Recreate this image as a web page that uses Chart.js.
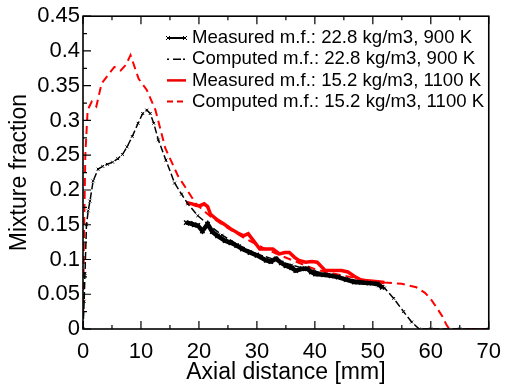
<!DOCTYPE html>
<html>
<head>
<meta charset="utf-8">
<script src="https://cdn.jsdelivr.net/npm/chart.js@4.4.1/dist/chart.umd.min.js"></script>
<style>
  html, body { margin: 0; padding: 0; background: #fff; }
  #wrap { width: 511px; height: 392px; }
</style>
</head>
<body>
<div id="wrap"><canvas id="chart" width="511" height="392"></canvas></div>
<script>
// Measured m.f., 22.8 kg/m3, 900 K
const measBlackX = [17.8, 18.5, 19.2, 19.8, 20.6, 21.5, 22.3, 23.2, 24.5, 25.5, 26.5, 27.5, 28.8, 30, 31.6, 32.4, 33.3, 34.2, 35, 36, 36.7, 37.8, 38.7, 39.4, 40.1, 41.5, 42.8, 44, 45.4, 46.8, 48, 49.3, 50.8, 51.6];
const measBlackY = [0.153, 0.152, 0.15, 0.149, 0.141, 0.151, 0.14, 0.134, 0.127, 0.124, 0.12, 0.115, 0.11, 0.106, 0.0986, 0.097, 0.101, 0.095, 0.091, 0.088, 0.084, 0.0867, 0.0867, 0.082, 0.079, 0.078, 0.0765, 0.0747, 0.071, 0.0676, 0.067, 0.066, 0.065, 0.06];

// Computed m.f., 22.8 kg/m3, 900 K
const compBlackX = [0, 0.2, 0.34, 0.6, 0.9, 1.2, 1.75, 2.6, 3.4, 4.2, 5.1, 6, 6.8, 7.6, 8.5, 9.5, 10.3, 11.0, 11.6, 12.2, 13.0, 14.3, 15.8, 17, 18.1, 19.8, 21.5, 24, 27, 30, 33, 36, 40, 44, 48, 51, 52, 53.6, 55.3, 56.7, 58, 60, 65, 70];
const compBlackY = [0, 0.04, 0.08, 0.15, 0.17, 0.184, 0.213, 0.23, 0.234, 0.237, 0.24, 0.245, 0.251, 0.262, 0.277, 0.296, 0.31, 0.315, 0.31, 0.296, 0.272, 0.243, 0.21, 0.194, 0.18, 0.163, 0.151, 0.135, 0.12, 0.108, 0.1, 0.092, 0.083, 0.076, 0.068, 0.062, 0.059, 0.044, 0.025, 0.01, 0, 0, 0, 0];

// Measured m.f., 15.2 kg/m3, 1100 K
const measRedX = [17.8, 18.8, 19.5, 20.1, 20.9, 21.5, 22.0, 23.0, 24.3, 25.5, 26.7, 27.7, 28.5, 29.5, 30.5, 31.6, 32.75, 33.9, 34.8, 35.6, 36.5, 37.25, 38.4, 39.5, 40.4, 41.8, 43.0, 44.6, 45.7, 46.8, 48, 49.5, 51.3, 52];
const measRedY = [0.182, 0.18, 0.178, 0.177, 0.18, 0.176, 0.165, 0.158, 0.151, 0.144, 0.138, 0.134, 0.137, 0.126, 0.115, 0.115, 0.115, 0.108, 0.11, 0.11, 0.103, 0.0986, 0.096, 0.097, 0.096, 0.084, 0.084, 0.084, 0.082, 0.076, 0.07, 0.069, 0.0676, 0.067];

// Computed m.f., 15.2 kg/m3, 1100 K
const compRedX = [0, 0.15, 0.4, 0.8, 1.5, 2.3, 3.2, 4.3, 5.4, 6.5, 7.4, 8.2, 9.6, 11.0, 12.5, 14.2, 16.4, 19.5, 22, 25, 28, 31, 34, 37, 40, 43, 46, 49, 52, 55, 57.5, 59, 60, 61, 62, 62.7, 63.2, 66, 70];
const compRedY = [0, 0.12, 0.25, 0.315, 0.327, 0.32, 0.353, 0.365, 0.377, 0.372, 0.38, 0.394, 0.36, 0.344, 0.315, 0.26, 0.22, 0.18, 0.162, 0.145, 0.13, 0.117, 0.106, 0.096, 0.086, 0.08, 0.075, 0.07, 0.067, 0.065, 0.06, 0.052, 0.043, 0.031, 0.018, 0.006, 0, 0, 0];

const legendLabels = [
  'Measured m.f.: 22.8 kg/m3, 900 K',
  'Computed m.f.: 22.8 kg/m3, 900 K',
  'Measured m.f.: 15.2 kg/m3, 1100 K',
  'Computed m.f.: 15.2 kg/m3, 1100 K',
];

const toPoints = (xs, ys) => xs.map((x, i) => ({ x, y: ys[i] }));

const FONT = "'Liberation Sans', Arial, sans-serif";

// inward tick marks on bottom, top and left + legend inside the plot
const tickMarks = {
  id: 'tickMarks',
  afterDatasetsDraw(chart) {
    const { ctx, chartArea: a, scales: { x, y } } = chart;
    ctx.save();
    ctx.strokeStyle = '#000';
    ctx.lineWidth = 1.2;
    ctx.beginPath();
    for (let v = 0; v <= 70; v += 5) {
      const px = x.getPixelForValue(v);
      const len = v % 10 === 0 ? 8 : 4;
      ctx.moveTo(px, a.bottom); ctx.lineTo(px, a.bottom - len);
      ctx.moveTo(px, a.top); ctx.lineTo(px, a.top + len);
    }
    for (let k = 0; k <= 18; k++) {
      const py = y.getPixelForValue(k * 0.025);
      const len = k % 2 === 0 ? 8 : 4;
      ctx.moveTo(a.left, py); ctx.lineTo(a.left + len, py);
    }
    ctx.stroke();
    ctx.lineWidth = 1.6;
    ctx.strokeRect(a.left, a.top, a.right - a.left, a.bottom - a.top);
    ctx.restore();
  },
  afterDraw(chart) {
    const { ctx } = chart;
    const styles = [
      { color: '#000', dash: [], width: 2, mark: true },
      { color: '#000', dash: [2, 4, 8, 2], width: 1.5, mark: false },
      { color: '#e00', dash: [], width: 2.5, mark: false },
      { color: '#e00', dash: [6, 4], width: 2, mark: false },
    ];
    ctx.save();
    ctx.font = '18.6px ' + FONT;
    ctx.textBaseline = 'middle';
    legendLabels.forEach((label, i) => {
      const yy = 38 + i * 21.2;
      const s = styles[i];
      ctx.strokeStyle = s.color;
      ctx.lineWidth = s.width;
      ctx.setLineDash(s.dash);
      ctx.beginPath();
      ctx.moveTo(167, yy); ctx.lineTo(186, yy);
      ctx.stroke();
      ctx.setLineDash([]);
      if (s.mark) {
        ctx.lineWidth = 1;
        ctx.beginPath();
        [168, 185].forEach((mx) => {
          ctx.moveTo(mx - 2, yy - 2); ctx.lineTo(mx + 2, yy + 2);
          ctx.moveTo(mx - 2, yy + 2); ctx.lineTo(mx + 2, yy - 2);
        });
        ctx.stroke();
      }
      ctx.fillStyle = '#000';
      ctx.fillText(label, 192, yy);
    });
    ctx.restore();
  },
};

new Chart(document.getElementById('chart'), {
  type: 'scatter',
  data: {
    datasets: [
      {
        label: legendLabels[0],
        data: toPoints(measBlackX, measBlackY),
        showLine: true,
        borderColor: '#000',
        backgroundColor: '#000',
        borderWidth: 4.5,
        pointStyle: 'crossRot',
        pointRadius: 3,
        pointBorderWidth: 1.5,
      },
      {
        label: legendLabels[1],
        data: toPoints(compBlackX, compBlackY),
        showLine: true,
        borderColor: '#000',
        backgroundColor: '#000',
        borderWidth: 1.5,
        borderDash: [7, 3],
        pointStyle: 'crossRot',
        pointRadius: 2,
        pointBorderWidth: 1,
      },
      {
        label: legendLabels[2],
        data: toPoints(measRedX, measRedY),
        showLine: true,
        borderColor: '#f00',
        backgroundColor: '#f00',
        borderWidth: 3.5,
        pointRadius: 0,
      },
      {
        label: legendLabels[3],
        data: toPoints(compRedX, compRedY),
        showLine: true,
        borderColor: '#f00',
        backgroundColor: '#f00',
        borderWidth: 2,
        borderDash: [8, 5],
        pointRadius: 0,
      },
    ],
  },
  options: {
    responsive: false,
    animation: false,
    layout: { padding: { top: 14, right: 14, left: 0, bottom: 0 } },
    plugins: { legend: { display: false }, tooltip: { enabled: false } },
    scales: {
      x: {
        type: 'linear',
        min: 0,
        max: 70,
        grid: { display: false, drawTicks: false },
        border: { display: false },
        ticks: { stepSize: 10, padding: 10, color: '#000', font: { family: FONT, size: 22 } },
        title: {
          display: true,
          text: 'Axial distance [mm]',
          color: '#000',
          font: { family: FONT, size: 23, lineHeight: 1 },
          padding: { top: 0, bottom: 8 },
        },
        afterFit(scale) { scale.height = 63; },
      },
      y: {
        type: 'linear',
        min: 0,
        max: 0.45,
        grid: { display: false, drawTicks: false },
        border: { display: false },
        ticks: {
          stepSize: 0.05,
          padding: 3,
          color: '#000',
          font: { family: FONT, size: 22 },
          callback: (v) => String(Number(v.toFixed(2))),
        },
        title: {
          display: true,
          text: 'Mixture fraction',
          color: '#000',
          font: { family: FONT, size: 23, lineHeight: 1 },
          padding: { top: 8, bottom: 0 },
        },
        afterFit(scale) { scale.width = 83; },
      },
    },
  },
  plugins: [tickMarks],
});
</script>
</body>
</html>
